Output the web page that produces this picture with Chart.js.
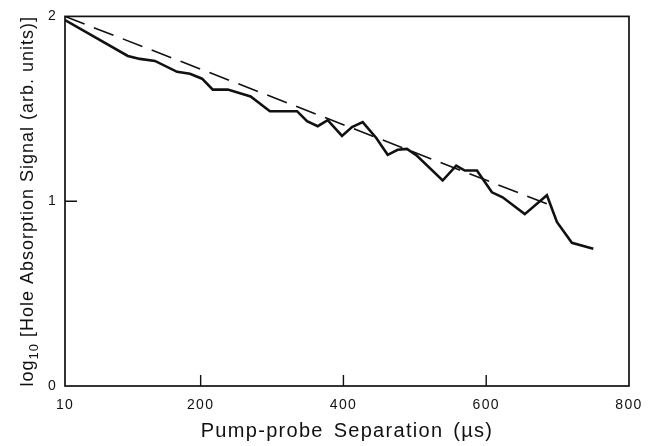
<!DOCTYPE html>
<html>
<head>
<meta charset="utf-8">
<script src="https://cdn.jsdelivr.net/npm/chart.js@4.4.0/dist/chart.umd.min.js"></script>
<style>
  body { margin: 0; background: #fff; }
  #wrap { width: 656px; height: 446px; }
</style>
</head>
<body>
<div id="wrap"><canvas id="holeChart"></canvas></div>
<script>
const sepUs = [10, 98, 115, 136, 167, 185, 202, 217, 238, 270, 297, 335, 349, 364, 378, 398, 412, 427,
  446, 462, 476, 489, 503, 539, 558, 570, 587, 608, 623, 654, 685, 699, 720, 750];
const logSignal = [1.98, 1.786, 1.77, 1.759, 1.70, 1.69, 1.663, 1.604, 1.604, 1.567, 1.487, 1.487, 1.433, 1.406,
  1.439, 1.353, 1.401, 1.428, 1.342, 1.251, 1.278, 1.283, 1.246, 1.112, 1.193, 1.166, 1.166, 1.048, 1.021,
  0.930, 1.032, 0.888, 0.775, 0.743];

// straight-line fit (dashed)
const fitX = [10, 686];
const fitY = [2.0, 0.984];

// axis ticks
const xTicks = [10, 200, 400, 600, 800];
const yTicks = [0, 1, 2];
const innerXTicks = [200, 400, 600];
const innerYTicks = [1];

const FONT = '"Liberation Sans", Arial, Helvetica, sans-serif';
const INK = '#111';

const toPoints = (xs, ys) => xs.map((x, i) => ({ x: x, y: ys[i] }));

// the printed lettering is wider than Arial, so open it up a little
const spacingPlugin = {
  id: 'spacing',
  beforeDraw(chart) {
    chart.ctx.letterSpacing = '1.3px';
    chart.ctx.wordSpacing = '3px';
  }
};

// frame box + short inward tick marks
const framePlugin = {
  id: 'frame',
  afterDatasetsDraw(chart) {
    const { ctx, chartArea, scales } = chart;
    ctx.save();
    ctx.strokeStyle = INK;
    ctx.lineWidth = 1.7;
    ctx.strokeRect(chartArea.left, chartArea.top, chartArea.right - chartArea.left, chartArea.bottom - chartArea.top);
    ctx.lineWidth = 1.4;
    ctx.beginPath();
    innerXTicks.forEach(v => {
      const px = scales.x.getPixelForValue(v);
      ctx.moveTo(px, chartArea.bottom);
      ctx.lineTo(px, chartArea.bottom - 11);
    });
    innerYTicks.forEach(v => {
      const py = scales.y.getPixelForValue(v);
      ctx.moveTo(chartArea.left, py);
      ctx.lineTo(chartArea.left + 12, py);
    });
    ctx.stroke();
    ctx.restore();
  }
};

// y title with a subscript 10
const yTitlePlugin = {
  id: 'yTitle',
  afterDraw(chart) {
    const { ctx, chartArea } = chart;
    const big = '18px ' + FONT;
    const small = '13px ' + FONT;
    const parts = [
      { text: 'log', font: big, dy: 0 },
      { text: '10', font: small, dy: 5 },
      { text: ' [Hole Absorption Signal (arb. units)]', font: big, dy: 0 }
    ];
    ctx.save();
    ctx.letterSpacing = '1px';
    ctx.wordSpacing = '4px';
    let total = 0;
    parts.forEach(p => { ctx.font = p.font; p.w = ctx.measureText(p.text).width; total += p.w; });
    ctx.translate(33, (chartArea.top + chartArea.bottom) / 2);
    ctx.rotate(-Math.PI / 2);
    ctx.fillStyle = INK;
    ctx.textBaseline = 'alphabetic';
    ctx.textAlign = 'left';
    let x = -total / 2;
    parts.forEach(p => {
      ctx.font = p.font;
      ctx.fillText(p.text, x, p.dy);
      x += p.w;
    });
    ctx.restore();
  }
};

const ctx = document.getElementById('holeChart').getContext('2d');
const holeChart = new Chart(ctx, {
  type: 'line',
  data: {
    datasets: [
      {
        label: 'data',
        data: toPoints(sepUs, logSignal),
        borderColor: INK,
        borderWidth: 2.6,
        pointRadius: 0,
        tension: 0,
        borderJoinStyle: 'miter',
        fill: false
      },
      {
        label: 'fit',
        data: toPoints(fitX, fitY),
        borderColor: INK,
        borderWidth: 1.6,
        borderDash: [21, 10],
        pointRadius: 0,
        tension: 0,
        fill: false
      }
    ]
  },
  options: {
    responsive: true,
    maintainAspectRatio: false,
    animation: false,
    layout: { padding: { top: 12, right: 27, bottom: 0, left: 0 } },
    plugins: {
      legend: { display: false },
      tooltip: { enabled: false }
    },
    scales: {
      x: {
        type: 'linear',
        min: 10,
        max: 800,
        afterBuildTicks: (scale) => { scale.ticks = xTicks.map(v => ({ value: v })); },
        afterFit: (scale) => { scale.height = 60; },
        grid: { display: false, drawTicks: false },
        border: { display: false },
        ticks: {
          color: INK,
          font: { family: FONT, size: 14 },
          padding: 11,
          maxRotation: 0,
          autoSkip: false
        },
        title: {
          display: true,
          text: 'Pump-probe Separation (\u00b5s)',
          color: INK,
          font: { family: FONT, size: 20 },
          padding: { top: 0, bottom: 3 }
        }
      },
      y: {
        min: 0,
        max: 2,
        afterBuildTicks: (scale) => { scale.ticks = yTicks.map(v => ({ value: v })); },
        afterFit: (scale) => { scale.width = 65; },
        grid: { display: false, drawTicks: false },
        border: { display: false },
        ticks: {
          color: INK,
          font: { family: FONT, size: 14 },
          padding: 8
        }
      }
    }
  },
  plugins: [spacingPlugin, framePlugin, yTitlePlugin]
});
</script>
</body>
</html>
